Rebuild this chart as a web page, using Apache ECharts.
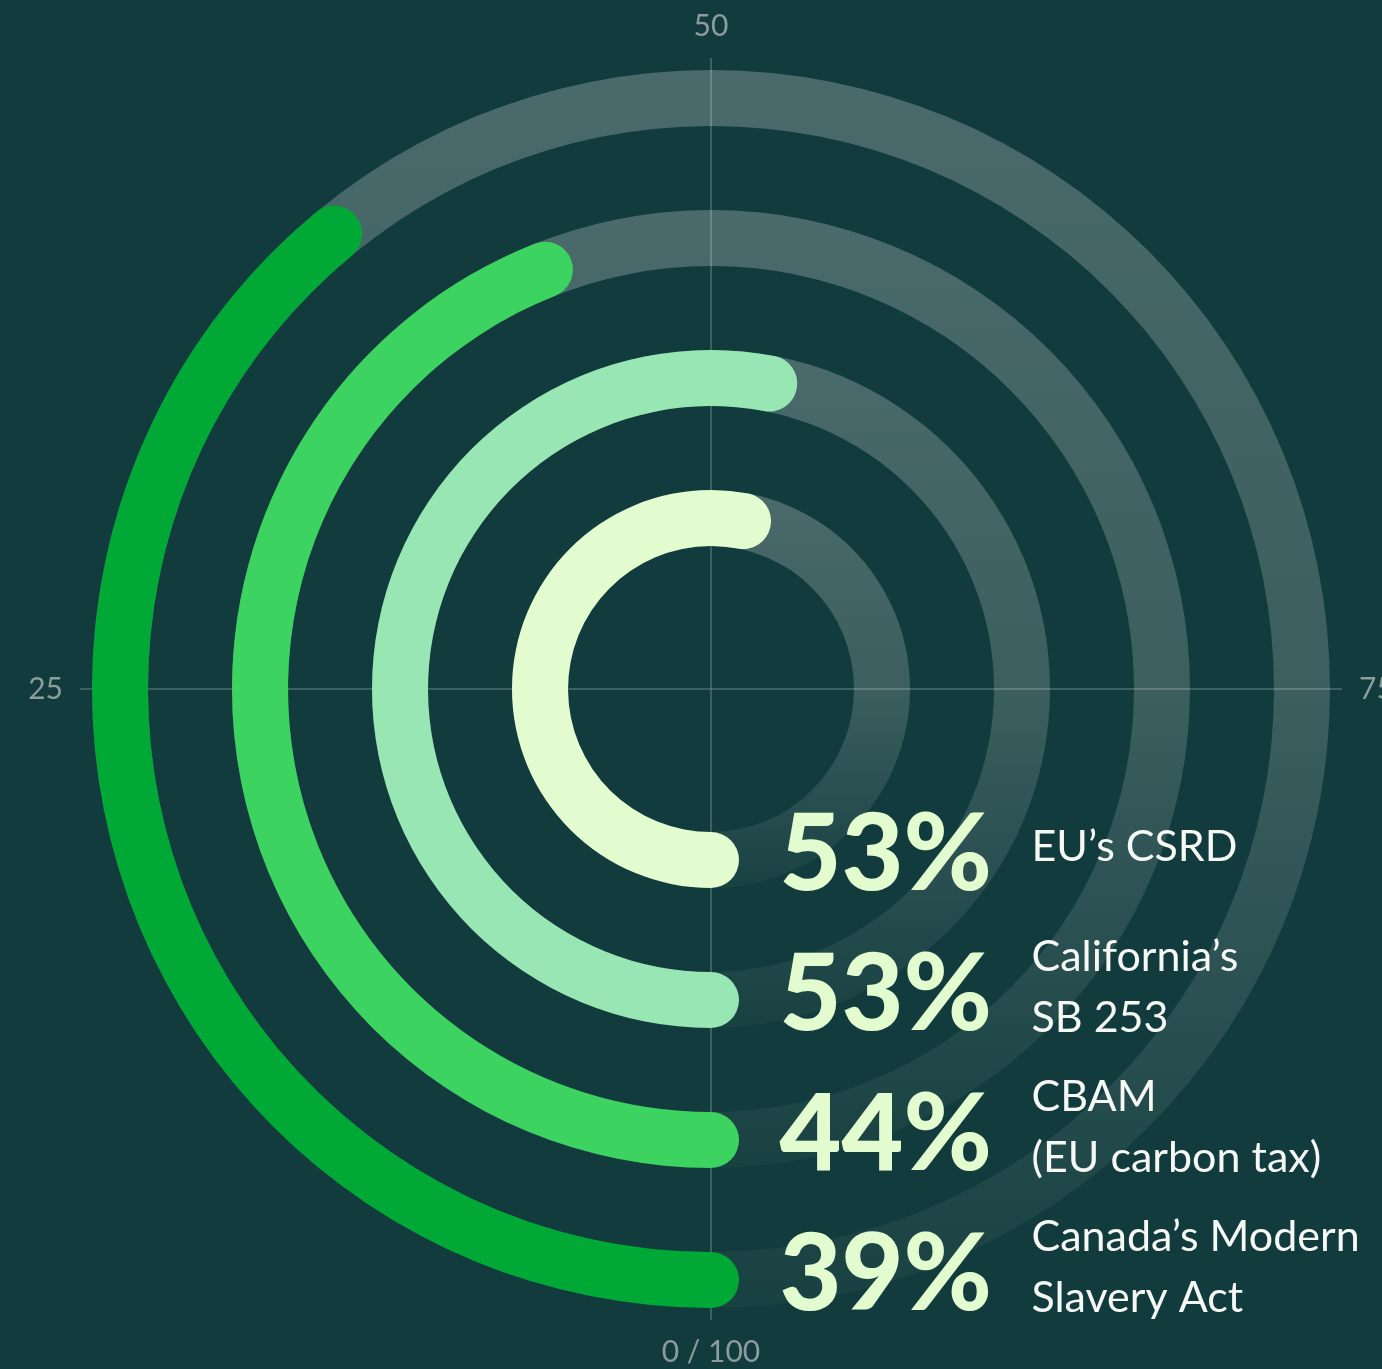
<!DOCTYPE html>
<html>
<head>
<meta charset="utf-8">
<title>Regulations</title>
<script src="https://cdn.jsdelivr.net/npm/echarts@6/dist/echarts.min.js"></script>
<style>
  html, body { margin: 0; padding: 0; background: #113b3c; }
  #chart { width: 1382px; height: 1369px; }
</style>
</head>
<body>
<div id="chart"></div>
<script>
  // rings from the inside out
  var categories = ['EU’s CSRD', 'California’s\nSB 253', 'CBAM\n(EU carbon tax)', 'Canada’s Modern\nSlavery Act'];
  var values = [53, 53, 44, 39];
  var trackValues = [100, 100, 100, 100];
  var barColors = ['#e2fbcf', '#98e6b4', '#3cd360', '#00a835'];

  var chart = echarts.init(document.getElementById('chart'));

  var trackGradient = {
    type: 'linear', x: 0, y: 0, x2: 0, y2: 1,
    colorStops: [
      { offset: 0, color: 'rgba(255,255,255,0.24)' },
      { offset: 0.5, color: 'rgba(255,255,255,0.18)' },
      { offset: 0.75, color: 'rgba(255,255,255,0.11)' },
      { offset: 1, color: 'rgba(255,255,255,0.03)' }
    ]
  };

  var option = {
    backgroundColor: '#113b3c',
    animation: false,
    polar: [
      { center: [711, 689], radius: [0, 631] },
      { center: [711, 689], radius: [101, 661] }
    ],
    angleAxis: [
      {
        polarIndex: 0,
        min: 0,
        max: 100,
        interval: 25,
        startAngle: 270,
        clockwise: true,
        axisLine: { show: false },
        axisTick: { show: false },
        splitLine: { show: true, lineStyle: { color: '#6a8787', width: 1 } },
        axisLabel: {
          margin: 17,
          color: '#8c9c9c',
          fontSize: 30,
          fontFamily: 'Lato',
          formatter: function (v) {
            if (v === 0) { return '0 / 100'; }
            if (v === 100) { return ''; }
            return String(v);
          }
        }
      },
      { polarIndex: 1, min: 0, max: 100, startAngle: 270, clockwise: true, show: false }
    ],
    radiusAxis: [
      { polarIndex: 0, min: 0, max: 1, show: false },
      { polarIndex: 1, type: 'category', data: categories, show: false }
    ],
    series: [
      {
        type: 'bar',
        coordinateSystem: 'polar',
        polarIndex: 1,
        data: trackValues,
        barWidth: 56,
        barGap: '-100%',
        silent: true,
        itemStyle: { color: trackGradient },
        z: 1
      },
      {
        type: 'bar',
        coordinateSystem: 'polar',
        polarIndex: 1,
        data: values.map(function (v, i) {
          return { value: v, itemStyle: { color: barColors[i] } };
        }),
        barWidth: 56,
        barGap: '-100%',
        roundCap: true,
        silent: true,
        z: 2
      },
      {
        // percentage labels, anchored at the start of each ring
        type: 'scatter',
        coordinateSystem: 'polar',
        polarIndex: 1,
        symbolSize: 1,
        itemStyle: { color: 'rgba(0,0,0,0)', opacity: 1 },
        silent: true,
        z: 5,
        data: values.map(function (v, i) { return [i, 0]; }),
        label: {
          show: true,
          position: [69, -4],
          align: 'left',
          verticalAlign: 'middle',
          fontFamily: 'Lato',
          fontWeight: 900,
          fontSize: 107,
          color: '#e2fbcf',
          opacity: 1,
          formatter: function (p) { return values[p.dataIndex] + '%'; }
        }
      },
      {
        type: 'scatter',
        coordinateSystem: 'polar',
        polarIndex: 1,
        symbolSize: 1,
        itemStyle: { color: 'rgba(0,0,0,0)', opacity: 1 },
        silent: true,
        z: 5,
        data: categories.map(function (c, i) { return [i, 0]; }),
        label: {
          show: true,
          position: [321, -12],
          align: 'left',
          verticalAlign: 'middle',
          fontFamily: 'Lato',
          fontSize: 43,
          lineHeight: 61,
          color: '#f6f8f4',
          opacity: 1,
          formatter: function (p) { return categories[p.dataIndex]; }
        }
      }
    ]
  };

  chart.setOption(option);
</script>
</body>
</html>
